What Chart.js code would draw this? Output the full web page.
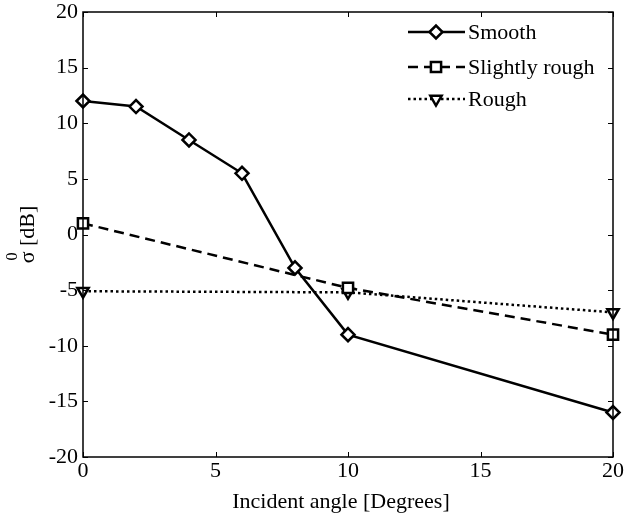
<!DOCTYPE html>
<html>
<head>
<meta charset="utf-8">
<script src="https://cdn.jsdelivr.net/npm/chart.js@4.4.1/dist/chart.umd.min.js"></script>
<style>
  html, body { margin: 0; padding: 0; background: #fff; }
  #wrap { width: 626px; height: 521px; }
</style>
</head>
<body>
<div id="wrap"><canvas id="c" width="626" height="521"></canvas></div>
<script>
// Backscatter vs incident angle for three surface roughness classes
const smoothAngles = [0, 2, 4, 6, 8, 10, 20];
const smoothSigma  = [12, 11.5, 8.5, 5.5, -3, -9, -16];
const slightAngles = [0, 10, 20];
const slightSigma  = [1, -4.8, -9];
const roughAngles  = [0, 10, 20];
const roughSigma   = [-5.1, -5.2, -7];

const seriesNames = ['Smooth', 'Slightly rough', 'Rough'];
const xTicks = [0, 5, 10, 15, 20];
const yTicks = [-20, -15, -10, -5, 0, 5, 10, 15, 20];

const FONT = '"Liberation Serif", "Times New Roman", serif';
const FS = 22;

const pts = (xs, ys) => xs.map((x, i) => ({ x, y: ys[i] }));

const styles = [
  { dash: [], pointStyle: 'rectRot', radius: 6.5, rot: 0 },
  { dash: [10, 6], pointStyle: 'rect', radius: 7.2, rot: 0 },
  { dash: [2.5, 3], pointStyle: 'triangle', radius: 6.5, rot: 180 }
];

const seriesData = [
  pts(smoothAngles, smoothSigma),
  pts(slightAngles, slightSigma),
  pts(roughAngles, roughSigma)
];

const datasets = seriesData.map((d, i) => ({
  label: seriesNames[i],
  data: d,
  borderColor: '#000',
  borderWidth: 2.5,
  borderDash: styles[i].dash,
  pointStyle: styles[i].pointStyle,
  pointRadius: styles[i].radius,
  pointRotation: styles[i].rot,
  pointBackgroundColor: '#fff',
  pointBorderColor: '#000',
  pointBorderWidth: 2.5,
  pointHoverRadius: styles[i].radius,
  tension: 0,
  fill: false,
  clip: false
}));

// Axes box with inward tick marks on all four sides
const frame = {
  id: 'frame',
  afterDatasetsDraw(chart) {
    const { ctx, chartArea: a, scales } = chart;
    ctx.save();
    ctx.strokeStyle = '#000';
    ctx.lineWidth = 1.5;
    ctx.setLineDash([]);
    ctx.strokeRect(a.left, a.top, a.right - a.left, a.bottom - a.top);
    ctx.lineWidth = 1;
    const len = 5;
    ctx.beginPath();
    xTicks.forEach(v => {
      const px = Math.round(scales.x.getPixelForValue(v)) + 0.5;
      ctx.moveTo(px, a.bottom); ctx.lineTo(px, a.bottom - len);
      ctx.moveTo(px, a.top); ctx.lineTo(px, a.top + len);
    });
    yTicks.forEach(v => {
      const py = Math.round(scales.y.getPixelForValue(v)) + 0.5;
      ctx.moveTo(a.left, py); ctx.lineTo(a.left + len, py);
      ctx.moveTo(a.right, py); ctx.lineTo(a.right - len, py);
    });
    ctx.stroke();
    ctx.restore();
  }
};

// Line-and-marker legend in the upper right of the plot
const legendBox = {
  id: 'legendBox',
  afterDraw(chart) {
    const { ctx } = chart;
    const x0 = 408, x1 = 465, xm = 436, tx = 468;
    const rows = [32, 67, 99];
    ctx.save();
    chart.data.datasets.forEach((ds, i) => {
      const y = rows[i];
      ctx.strokeStyle = '#000';
      ctx.lineWidth = 2.5;
      ctx.setLineDash(ds.borderDash);
      ctx.beginPath();
      ctx.moveTo(x0, y); ctx.lineTo(x1, y);
      ctx.stroke();
      ctx.setLineDash([]);
      ctx.fillStyle = '#fff';
      Chart.helpers.drawPoint(ctx, {
        pointStyle: ds.pointStyle, rotation: ds.pointRotation,
        radius: ds.pointRadius, borderWidth: 2.5
      }, xm, y);
      ctx.fillStyle = '#000';
      ctx.font = FS + 'px ' + FONT;
      ctx.textBaseline = 'middle';
      ctx.textAlign = 'left';
      ctx.fillText(ds.label, tx, y + 1);
    });
    ctx.restore();
  }
};

// Axis titles (y title carries a superscript)
const titles = {
  id: 'titles',
  afterDraw(chart) {
    const { ctx, chartArea: a } = chart;
    ctx.save();
    ctx.fillStyle = '#000';
    ctx.font = FS + 'px ' + FONT;
    ctx.textAlign = 'center';
    ctx.textBaseline = 'alphabetic';
    ctx.fillText('Incident angle [Degrees]', 341, 508);

    const cy = (a.top + a.bottom) / 2;
    ctx.translate(34, cy);
    ctx.rotate(-Math.PI / 2);
    ctx.textAlign = 'left';
    const main = FS + 'px ' + FONT, sup = '16px ' + FONT;
    ctx.font = main;
    const wS = ctx.measureText('σ').width;
    const wR = ctx.measureText(' [dB]').width;
    const start = -(wS + wR) / 2;
    ctx.fillText('σ', start, 0);
    ctx.font = sup;
    const w0 = ctx.measureText('0').width;
    ctx.fillText('0', start + (wS - w0) / 2 + 1, -17);
    ctx.font = main;
    ctx.fillText(' [dB]', start + wS, 0);
    ctx.restore();
  }
};

new Chart(document.getElementById('c'), {
  type: 'line',
  data: { datasets },
  options: {
    responsive: false,
    animation: false,
    events: [],
    layout: { padding: { top: 12, right: 13, left: 0, bottom: 0 } },
    plugins: { legend: { display: false }, tooltip: { enabled: false } },
    scales: {
      x: {
        type: 'linear', min: 0, max: 20,
        afterBuildTicks: s => { s.ticks = xTicks.map(v => ({ value: v })); },
        afterFit: s => { s.height = 64; s.paddingLeft = 0; s.paddingRight = 0; },
        grid: { display: false, drawTicks: false, tickLength: 0 },
        border: { display: false },
        ticks: { color: '#000', font: { family: FONT, size: FS, lineHeight: 1 }, padding: 3, maxRotation: 0 }
      },
      y: {
        type: 'linear', min: -20, max: 20,
        afterBuildTicks: s => { s.ticks = yTicks.map(v => ({ value: v })); },
        afterFit: s => { s.width = 83; s.paddingTop = 0; s.paddingBottom = 0; },
        grid: { display: false, drawTicks: false, tickLength: 0 },
        border: { display: false },
        ticks: { color: '#000', font: { family: FONT, size: FS, lineHeight: 1 }, padding: 5 }
      }
    }
  },
  plugins: [frame, legendBox, titles]
});
</script>
</body>
</html>
